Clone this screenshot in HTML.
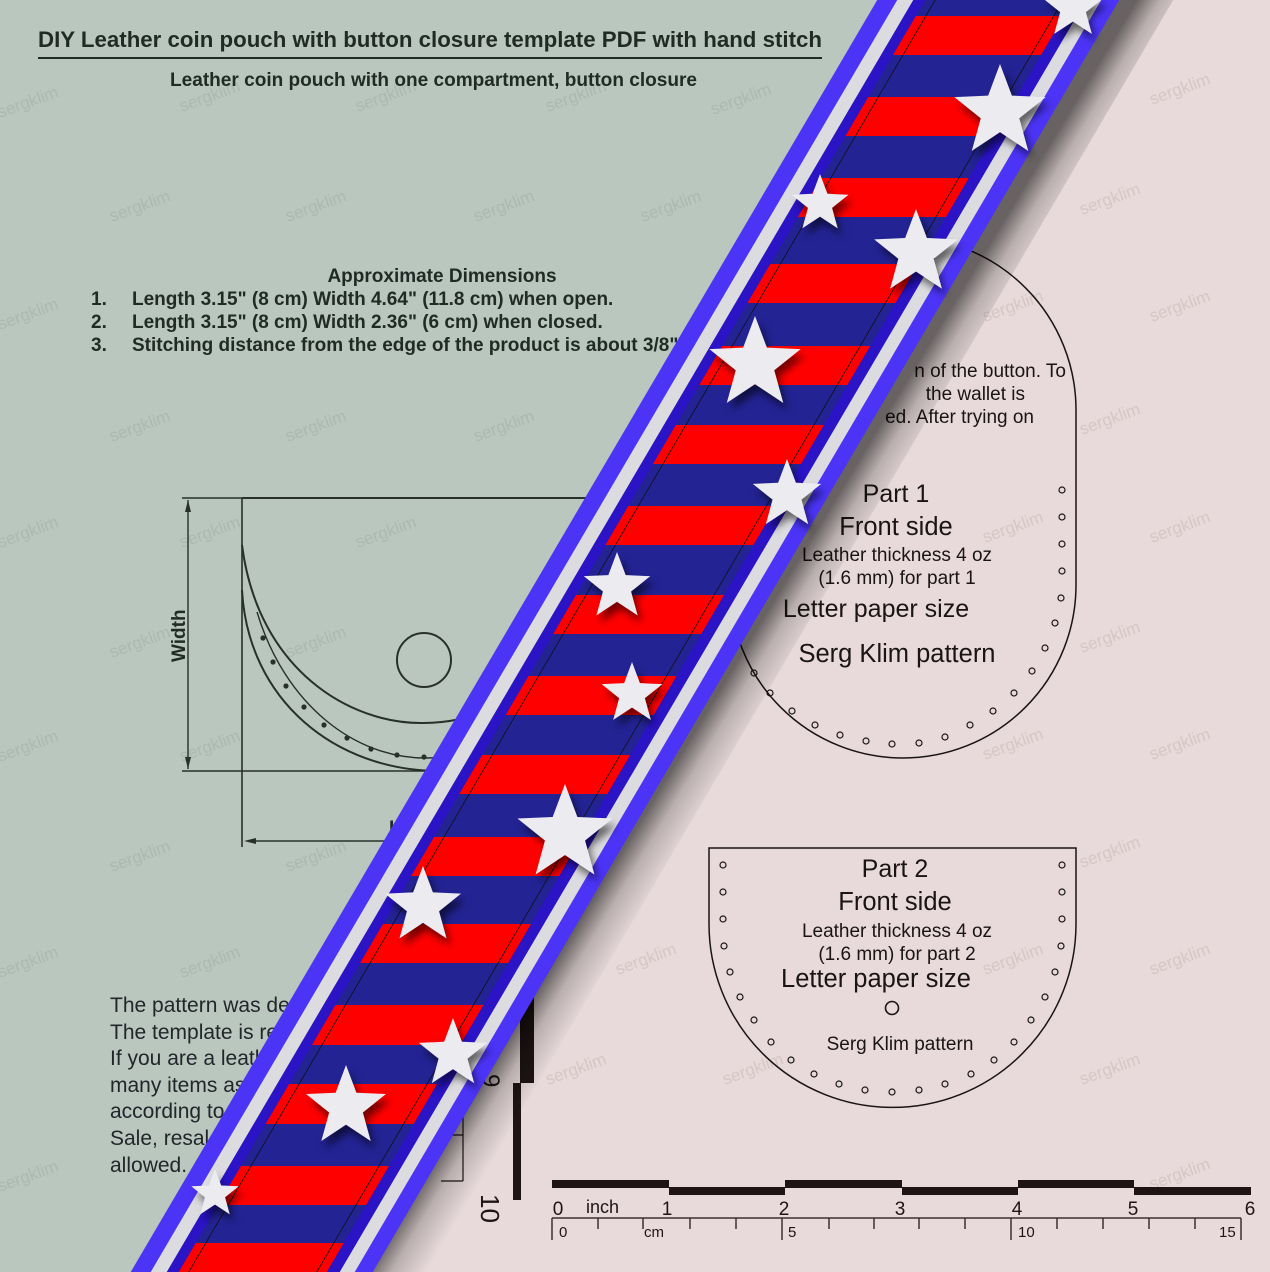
<!DOCTYPE html>
<html><head><meta charset="utf-8"><style>
html,body{margin:0;padding:0}
body{width:1270px;height:1272px;overflow:hidden}
svg{display:block}
text{font-family:"Liberation Sans",Arial,sans-serif}
.wm{font-size:17px;fill:#abb9b1}
.wp{font-size:17px;fill:#d6c6c6}
</style></head><body>
<svg width="1270" height="1272" viewBox="0 0 1270 1272" xmlns="http://www.w3.org/2000/svg">
<defs>
<polygon id="st" points="0,-1 0.247,-0.34 0.951,-0.309 0.4,0.13 0.588,0.809 0,0.42 -0.588,0.809 -0.4,0.13 -0.951,-0.309 -0.247,-0.34"/>
<clipPath id="inner"><polygon points="937,-20 1085,-20 315,1292 167,1292"/></clipPath>
<filter id="sh" x="-20%" y="-20%" width="140%" height="140%"><feDropShadow dx="4" dy="7" stdDeviation="4" flood-color="#000" flood-opacity="0.55"/></filter>
<linearGradient id="shadowg" gradientUnits="userSpaceOnUse" x1="774" y1="600" x2="817" y2="626">
<stop offset="0" stop-color="#000" stop-opacity="0.55"/><stop offset="0.4" stop-color="#000" stop-opacity="0.2"/><stop offset="1" stop-color="#000" stop-opacity="0"/></linearGradient>
</defs>
<rect width="1270" height="1272" fill="#e8dada"/>
<polygon points="0,0 1010,0 255,1272 0,1272" fill="#b9c7bf"/>

<g>
<text class="wm" transform="translate(0,118) rotate(-20)">sergklim</text>
<text class="wm" transform="translate(182,112) rotate(-20)">sergklim</text>
<text class="wm" transform="translate(358,112) rotate(-20)">sergklim</text>
<text class="wm" transform="translate(548,112) rotate(-20)">sergklim</text>
<text class="wm" transform="translate(713,115) rotate(-20)">sergklim</text>
<text class="wp" transform="translate(1152,105) rotate(-20)">sergklim</text>
<text class="wm" transform="translate(112,222) rotate(-20)">sergklim</text>
<text class="wm" transform="translate(288,222) rotate(-20)">sergklim</text>
<text class="wm" transform="translate(476,222) rotate(-20)">sergklim</text>
<text class="wm" transform="translate(643,222) rotate(-20)">sergklim</text>
<text class="wp" transform="translate(1082,215) rotate(-20)">sergklim</text>
<text class="wm" transform="translate(0,330) rotate(-20)">sergklim</text>
<text class="wp" transform="translate(1152,322) rotate(-20)">sergklim</text>
<text class="wp" transform="translate(985,322) rotate(-20)">sergklim</text>
<text class="wm" transform="translate(112,442) rotate(-20)">sergklim</text>
<text class="wm" transform="translate(288,442) rotate(-20)">sergklim</text>
<text class="wm" transform="translate(476,442) rotate(-20)">sergklim</text>
<text class="wp" transform="translate(1082,435) rotate(-20)">sergklim</text>
<text class="wm" transform="translate(0,548) rotate(-20)">sergklim</text>
<text class="wm" transform="translate(182,548) rotate(-20)">sergklim</text>
<text class="wm" transform="translate(358,548) rotate(-20)">sergklim</text>
<text class="wp" transform="translate(1152,543) rotate(-20)">sergklim</text>
<text class="wp" transform="translate(985,543) rotate(-20)">sergklim</text>
<text class="wm" transform="translate(112,658) rotate(-20)">sergklim</text>
<text class="wm" transform="translate(288,658) rotate(-20)">sergklim</text>
<text class="wp" transform="translate(1082,653) rotate(-20)">sergklim</text>
<text class="wm" transform="translate(0,762) rotate(-20)">sergklim</text>
<text class="wm" transform="translate(182,762) rotate(-20)">sergklim</text>
<text class="wp" transform="translate(1152,760) rotate(-20)">sergklim</text>
<text class="wp" transform="translate(985,760) rotate(-20)">sergklim</text>
<text class="wm" transform="translate(112,872) rotate(-20)">sergklim</text>
<text class="wm" transform="translate(288,872) rotate(-20)">sergklim</text>
<text class="wp" transform="translate(1082,868) rotate(-20)">sergklim</text>
<text class="wm" transform="translate(0,978) rotate(-20)">sergklim</text>
<text class="wm" transform="translate(182,978) rotate(-20)">sergklim</text>
<text class="wp" transform="translate(618,975) rotate(-20)">sergklim</text>
<text class="wp" transform="translate(1152,975) rotate(-20)">sergklim</text>
<text class="wp" transform="translate(985,975) rotate(-20)">sergklim</text>
<text class="wp" transform="translate(548,1085) rotate(-20)">sergklim</text>
<text class="wp" transform="translate(725,1085) rotate(-20)">sergklim</text>
<text class="wp" transform="translate(1082,1085) rotate(-20)">sergklim</text>
<text class="wm" transform="translate(0,1192) rotate(-20)">sergklim</text>
<text class="wp" transform="translate(1152,1190) rotate(-20)">sergklim</text>
</g>

<!-- header -->
<text x="38" y="47" font-size="22" font-weight="bold" fill="#1f2b24" textLength="784" lengthAdjust="spacingAndGlyphs">DIY Leather coin pouch with button closure template PDF with hand stitch</text>
<rect x="38" y="57" width="784" height="2" fill="#1f2b24"/>
<text x="170" y="86" font-size="19" font-weight="bold" fill="#1f2b24" textLength="527" lengthAdjust="spacingAndGlyphs">Leather coin pouch with one compartment, button closure</text>
<text x="442" y="282" font-size="19" font-weight="bold" fill="#1f2b24" text-anchor="middle">Approximate Dimensions</text>
<g font-size="19" font-weight="bold" fill="#1f2b24">
<text x="91" y="305">1.</text><text x="132" y="305">Length 3.15" (8 cm) Width 4.64" (11.8 cm) when open.</text>
<text x="91" y="328">2.</text><text x="132" y="328">Length 3.15" (8 cm) Width 2.36" (6 cm) when closed.</text>
<text x="91" y="351">3.</text><text x="132" y="351">Stitching distance from the edge of the product is about 3/8" (1 cm).</text>
</g>

<!-- diagram -->
<g stroke="#27302a" fill="none" stroke-width="1.4">
<line x1="242" y1="498" x2="640" y2="498" stroke-width="2"/>
<line x1="182" y1="498" x2="242" y2="498"/>
<line x1="182" y1="771" x2="640" y2="771"/>
<line x1="188" y1="500" x2="188" y2="769"/>
<line x1="242" y1="498" x2="242" y2="847" stroke-width="1.6"/>
<line x1="250" y1="841" x2="460" y2="841"/>
<path d="M242,545 C258,670 350,724 423,723 C448,723 470,718 495,708" stroke-width="2"/>
<path d="M257,612 C285,705 355,758 425,758 L470,757" stroke-width="1.4"/>
<path d="M242,590 C248,700 335,771 440,771" stroke-width="2"/>
<circle cx="424" cy="660" r="27" stroke-width="2"/>
</g>
<g fill="#27302a">
<polygon points="188,500 185,512 191,512"/><polygon points="188,769 185,757 191,757"/>
<polygon points="244,841 256,838 256,844"/>
<circle cx="263" cy="638" r="2.6"/><circle cx="273" cy="662" r="2.6"/><circle cx="286" cy="686" r="2.6"/><circle cx="304" cy="707" r="2.6"/><circle cx="324" cy="725" r="2.6"/><circle cx="347" cy="738" r="2.6"/><circle cx="371" cy="749" r="2.6"/><circle cx="397" cy="755" r="2.6"/><circle cx="424" cy="757" r="2.6"/>
</g>
<text transform="translate(185,662) rotate(-90)" font-size="19" font-weight="bold" fill="#1f2b24">Width</text>
<text x="389" y="834" font-size="19" font-weight="bold" fill="#1f2b24">Length</text>
<text x="372" y="882" font-size="19" font-weight="bold" fill="#1f2b24">S</text>

<g font-size="21" fill="#22262a">
<text x="110" y="1012">The pattern was designed</text>
<text x="110" y="1039">The template is ready</text>
<text x="110" y="1065">If you are a leather</text>
<text x="110" y="1092">many items as</text>
<text x="110" y="1118">according to</text>
<text x="110" y="1145">Sale, resale</text>
<text x="110" y="1172">allowed.</text>
</g>

<g fill="#1e1414">
<rect x="520" y="990" width="14" height="93"/>
<rect x="513" y="1083" width="8" height="117"/>
</g>
<g stroke="#1e1414" stroke-width="1.2">
<line x1="463" y1="1110" x2="463" y2="1181"/><line x1="443" y1="1135" x2="463" y2="1135"/><line x1="441" y1="1181" x2="463" y2="1181"/>
</g>
<text transform="translate(483,1074) rotate(90)" font-size="24" fill="#1e1414">9</text>
<text transform="translate(481,1194) rotate(90)" font-size="26" fill="#1e1414">10</text>

<!-- Part 1 -->
<path d="M730,410 A173,173 0 0 1 1076,410 L1076,585 A173,173 0 0 1 730,585 Z" fill="none" stroke="#1a1414" stroke-width="1.5"/>
<g fill="none" stroke="#1a1414" stroke-width="1.2">
<circle cx="1062" cy="490" r="3"/><circle cx="1062" cy="517" r="3"/><circle cx="1062" cy="544" r="3"/><circle cx="1062" cy="571" r="3"/>
<circle cx="1061" cy="598" r="3"/><circle cx="1055" cy="623" r="3"/><circle cx="1045" cy="648" r="3"/><circle cx="1032" cy="671" r="3"/><circle cx="1014" cy="693" r="3"/><circle cx="993" cy="711" r="3"/><circle cx="970" cy="725" r="3"/><circle cx="945" cy="737" r="3"/><circle cx="919" cy="743" r="3"/><circle cx="892" cy="744" r="3"/><circle cx="866" cy="741" r="3"/><circle cx="840" cy="735" r="3"/><circle cx="815" cy="725" r="3"/><circle cx="792" cy="711" r="3"/><circle cx="770" cy="693" r="3"/><circle cx="754" cy="673" r="3"/>
</g>
<g fill="#1a1414" text-anchor="middle">
<text x="896" y="502" font-size="25">Part 1</text>
<text x="896" y="535" font-size="25.5">Front side</text>
<text x="897" y="561" font-size="19">Leather thickness 4 oz</text>
<text x="897" y="584" font-size="19">(1.6 mm) for part 1</text>
<text x="876" y="617" font-size="25">Letter paper size</text>
<text x="897" y="662" font-size="25.5">Serg Klim pattern</text>
</g>
<g fill="#1a1414" font-size="19" text-anchor="end">
<text x="1066" y="377">n of the button. To</text>
<text x="1025" y="400">the wallet is</text>
<text x="1034" y="423">ed. After trying on</text>
</g>

<!-- Part 2 -->
<path d="M709,848 L1076,848 L1076,924 A183.5,183.5 0 0 1 709,924 Z" fill="none" stroke="#1a1414" stroke-width="1.5"/>
<g fill="none" stroke="#1a1414" stroke-width="1.2">
<circle cx="723" cy="865" r="3"/><circle cx="723" cy="892" r="3"/><circle cx="723" cy="919" r="3"/><circle cx="724" cy="946" r="3"/><circle cx="730" cy="972" r="3"/><circle cx="740" cy="997" r="3"/><circle cx="754" cy="1020" r="3"/><circle cx="771" cy="1042" r="3"/><circle cx="791" cy="1060" r="3"/><circle cx="814" cy="1074" r="3"/><circle cx="839" cy="1084" r="3"/><circle cx="865" cy="1090" r="3"/><circle cx="892" cy="1092" r="3"/><circle cx="919" cy="1090" r="3"/><circle cx="945" cy="1084" r="3"/><circle cx="971" cy="1074" r="3"/><circle cx="994" cy="1060" r="3"/><circle cx="1014" cy="1042" r="3"/><circle cx="1031" cy="1020" r="3"/><circle cx="1045" cy="997" r="3"/><circle cx="1055" cy="972" r="3"/><circle cx="1061" cy="946" r="3"/><circle cx="1062" cy="919" r="3"/><circle cx="1062" cy="892" r="3"/><circle cx="1062" cy="865" r="3"/>
<circle cx="892" cy="1008" r="6.5" stroke-width="1.6"/>
</g>
<g fill="#1a1414" text-anchor="middle">
<text x="895" y="877" font-size="25">Part 2</text>
<text x="895" y="910" font-size="25.5">Front side</text>
<text x="897" y="937" font-size="19">Leather thickness 4 oz</text>
<text x="897" y="960" font-size="19">(1.6 mm) for part 2</text>
<text x="876" y="987" font-size="25.5">Letter paper size</text>
<text x="900" y="1050" font-size="19">Serg Klim pattern</text>
</g>

<!-- bottom ruler -->
<g fill="#1e1414">
<rect x="552" y="1180" width="117" height="8"/><rect x="669" y="1187" width="116" height="8"/>
<rect x="785" y="1180" width="117" height="8"/><rect x="902" y="1187" width="116" height="8"/>
<rect x="1018" y="1180" width="116" height="8"/><rect x="1134" y="1187" width="117" height="8"/>
</g>
<g font-size="19" fill="#1e1414" text-anchor="middle">
<text x="558" y="1215">0</text><text x="667" y="1215">1</text><text x="784" y="1215">2</text><text x="900" y="1215">3</text><text x="1017" y="1215">4</text><text x="1133" y="1215">5</text><text x="1250" y="1215">6</text>
</g>
<text x="586" y="1213" font-size="18" fill="#1e1414">inch</text>
<g stroke="#3a3030" stroke-width="1.5">
<line x1="552" y1="1218" x2="1241" y2="1218"/>
<line x1="552" y1="1218" x2="552" y2="1240"/><line x1="782" y1="1218" x2="782" y2="1240"/><line x1="1011" y1="1218" x2="1011" y2="1240"/><line x1="1241" y1="1218" x2="1241" y2="1240"/>
<line x1="598" y1="1218" x2="598" y2="1229"/><line x1="643" y1="1218" x2="643" y2="1229"/><line x1="690" y1="1218" x2="690" y2="1229"/><line x1="736" y1="1218" x2="736" y2="1229"/>
<line x1="829" y1="1218" x2="829" y2="1229"/><line x1="874" y1="1218" x2="874" y2="1229"/><line x1="919" y1="1218" x2="919" y2="1229"/><line x1="965" y1="1218" x2="965" y2="1229"/>
<line x1="1057" y1="1218" x2="1057" y2="1229"/><line x1="1103" y1="1218" x2="1103" y2="1229"/><line x1="1149" y1="1218" x2="1149" y2="1229"/><line x1="1195" y1="1218" x2="1195" y2="1229"/>
</g>
<g font-size="15" fill="#1e1414">
<text x="559" y="1237">0</text><text x="644" y="1237">cm</text><text x="788" y="1237">5</text><text x="1018" y="1237">10</text><text x="1219" y="1237">15</text>
</g>

<!-- band shadow -->
<polygon points="1128,-20 1185,-20 415,1292 358,1292" fill="url(#shadowg)"/>

<!-- band -->
<polygon points="889,-20 1131,-20 361,1292 119,1292" fill="#4b34f6"/>
<polygon points="909,-20 1113,-20 343,1292 139,1292" fill="#dcdce0"/>
<polygon points="925,-20 1098,-20 328,1292 155,1292" fill="#2a14c6"/>
<g clip-path="url(#inner)">
<rect x="0" y="-20" width="1270" height="1320" fill="#232393"/>
<g fill="#ff0000">
<rect x="0" y="16" width="1270" height="39"/><rect x="0" y="97" width="1270" height="39"/><rect x="0" y="178" width="1270" height="39"/><rect x="0" y="264" width="1270" height="39"/><rect x="0" y="346" width="1270" height="39"/><rect x="0" y="425" width="1270" height="39"/><rect x="0" y="506" width="1270" height="39"/><rect x="0" y="595" width="1270" height="39"/><rect x="0" y="676" width="1270" height="39"/><rect x="0" y="755" width="1270" height="39"/><rect x="0" y="837" width="1270" height="39"/><rect x="0" y="924" width="1270" height="39"/><rect x="0" y="1005" width="1270" height="40"/><rect x="0" y="1084" width="1270" height="40"/><rect x="0" y="1166" width="1270" height="39"/><rect x="0" y="1243" width="1270" height="39"/>
</g>
<g stroke="#111" stroke-width="0.8" fill="none">
<line x1="947" y1="-20" x2="177" y2="1292"/><line x1="1075" y1="-20" x2="305" y2="1292"/>
</g>
</g>

<g filter="url(#sh)" fill="#ebebf0">
<use href="#st" transform="translate(1073,8) scale(32)"/>
<use href="#st" transform="translate(1000,112) scale(48)"/>
<use href="#st" transform="translate(820,204) scale(30)"/>
<use href="#st" transform="translate(916,253) scale(44)"/>
<use href="#st" transform="translate(755,364) scale(48)"/>
<use href="#st" transform="translate(787,495) scale(36)"/>
<use href="#st" transform="translate(617,587) scale(35)"/>
<use href="#st" transform="translate(632,694) scale(32)"/>
<use href="#st" transform="translate(565,834) scale(50)"/>
<use href="#st" transform="translate(423,906) scale(40)"/>
<use href="#st" transform="translate(453,1054) scale(36)"/>
<use href="#st" transform="translate(346,1107) scale(42)"/>
<use href="#st" transform="translate(215,1194) scale(25)"/>
</g>
</svg>
</body></html>
